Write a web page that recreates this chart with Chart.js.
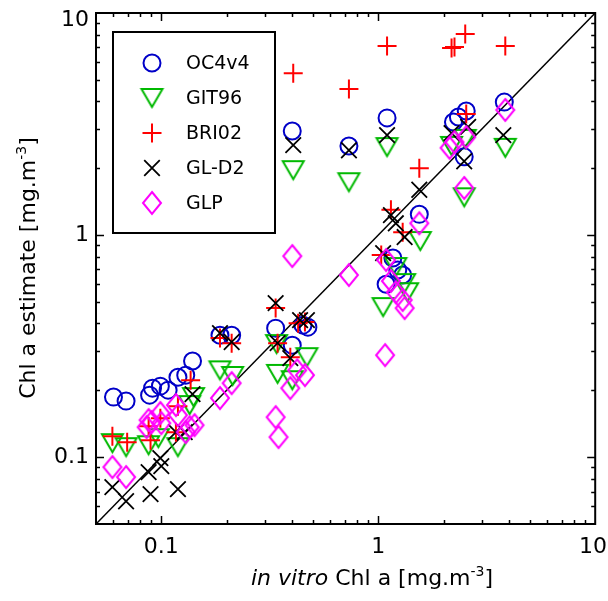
<!DOCTYPE html>
<html><head><meta charset="utf-8">
<script src="https://cdn.jsdelivr.net/npm/chart.js@4/dist/chart.umd.min.js"></script>
<style>html,body{margin:0;padding:0;background:#fff}#wrap{width:608px;height:601px;position:relative}</style>
</head><body><div id="wrap"><canvas id="c" width="608" height="601"></canvas></div>
<script>
// ---------- data ----------
const seriesNames = ['OC4v4', 'GIT96', 'BRI02', 'GL-D2', 'GLP'];

const oc4X = [0.0602,0.0688,0.0883,0.0911,0.0990,0.1075,0.1193,0.1296,0.1393,0.1864,0.2110,0.3365,0.4014,0.4014,0.4498,0.4739,0.7325,1.098,1.087,1.168,1.230,1.296,1.546,2.222,2.341,2.544,2.490,3.811];
const oc4Y = [0.1864,0.1788,0.1902,0.2045,0.2088,0.2003,0.229,0.234,0.271,0.354,0.354,0.381,2.94,0.319,0.393,0.385,2.52,3.37,0.601,0.788,0.696,0.661,1.24,3.23,3.40,3.62,2.25,3.97];

const git96X = [0.0595,0.0688,0.0874,0.0969,0.1193,0.1408,0.1351,0.1864,0.2132,0.340,0.3436,0.4014,0.4690,0.4056,0.7325,1.098,1.053,1.205,1.323,1.365,1.562,2.177,2.517,2.490,3.851];
const git96Y = [0.1156,0.1109,0.1132,0.1218,0.1109,0.1864,0.1715,0.246,0.232,0.323,0.237,0.222,0.282,1.96,1.73,2.49,0.474,0.718,0.608,0.553,0.940,2.52,2.71,1.48,2.47];

const bri02X = [0.0595,0.0696,0.0874,0.0892,0.0990,0.1168,0.1193,0.1365,0.1864,0.2110,0.3365,0.3436,0.3932,0.4272,0.4593,0.4056,0.7325,1.098,1.032,1.144,1.296,1.546,2.177,2.246,2.517,2.544,3.851];
const bri02Y = [0.1243,0.1168,0.1379,0.1193,0.1498,0.1296,0.1697,0.222,0.344,0.326,0.469,0.326,0.282,0.401,0.406,5.36,4.55,7.10,0.813,1.30,1.03,2.00,6.96,7.03,8.04,3.51,7.10];

const gld2X = [0.0595,0.0688,0.0874,0.0892,0.0990,0.100,0.1193,0.1168,0.1282,0.1393,0.1864,0.2110,0.3365,0.3436,0.3932,0.4362,0.4690,0.4056,0.7325,1.098,1.053,1.144,1.205,1.323,1.546,2.177,2.597,2.490,3.772];
const gld2Y = [0.0733,0.0633,0.0856,0.0681,0.0990,0.0911,0.0718,0.1296,0.1296,0.1922,0.362,0.330,0.494,0.326,0.279,0.414,0.414,2.54,2.41,2.82,0.830,1.23,1.13,0.980,1.60,2.88,3.07,2.15,2.82];

const glpX = [0.0595,0.0688,0.0856,0.0874,0.0902,0.0990,0.100,0.1168,0.1193,0.1296,0.1351,0.1423,0.1864,0.2110,0.4014,0.3365,0.347,0.3932,0.4228,0.4593,0.7325,1.087,1.144,1.205,1.296,1.323,1.075,1.546,2.132,2.246,2.544,2.490,3.851];
const glpY = [0.0902,0.0813,0.1365,0.1468,0.1438,0.158,0.1423,0.1715,0.1546,0.1296,0.1365,0.1393,0.1845,0.2154,0.804,0.1514,0.1231,0.2045,0.246,0.234,0.661,0.772,0.621,0.553,0.510,0.469,0.288,1.13,2.47,2.62,2.76,1.63,3.66];

const oneToOneX = [0.05, 10];
const oneToOneY = [0.05, 10];

const axisMin = 0.05, axisMax = 10;
const majorTickValues = [0.1, 1, 10];
const majorTickLabels = ['0.1', '1', '10'];
const minorTickValues = [0.05,0.06,0.07,0.08,0.09,0.2,0.3,0.4,0.5,0.6,0.7,0.8,0.9,2,3,4,5,6,7,8,9];

// ---------- marker images ----------
function makeTriangleDown(color, w, h, lw) {
  const pad = Math.ceil(lw) + 1;
  const c = document.createElement('canvas');
  c.width = w + 2 * pad; c.height = h + 2 * pad;
  const g = c.getContext('2d');
  g.strokeStyle = color; g.lineWidth = lw; g.lineJoin = 'miter';
  g.beginPath();
  g.moveTo(pad, pad); g.lineTo(pad + w, pad); g.lineTo(pad + w / 2, pad + h); g.closePath();
  g.stroke();
  return c;
}
function makeDiamond(color, w, h, lw) {
  const pad = Math.ceil(lw) + 1;
  const c = document.createElement('canvas');
  c.width = w + 2 * pad; c.height = h + 2 * pad;
  const g = c.getContext('2d');
  g.strokeStyle = color; g.lineWidth = lw;
  g.beginPath();
  g.moveTo(pad + w / 2, pad); g.lineTo(pad + w, pad + h / 2); g.lineTo(pad + w / 2, pad + h); g.lineTo(pad, pad + h / 2); g.closePath();
  g.stroke();
  return c;
}

const colBlue = 'rgb(0,0,200)', colGreen = 'rgb(0,185,0)', colRed = 'rgb(255,0,0)', colBlack = '#000', colMag = 'rgb(255,0,255)';
const triImg = makeTriangleDown(colGreen, 21, 18, 2);
const diaImg = makeDiamond(colMag, 18, 22, 2);

const styles = [
  { color: colBlue,  pointStyle: 'circle',   radius: 8.5, borderWidth: 2,   rotation: 0 },
  { color: colGreen, pointStyle: triImg,     radius: 10,  borderWidth: 2,   rotation: 0 },
  { color: colRed,   pointStyle: 'cross',    radius: 9.5, borderWidth: 2,   rotation: 0 },
  { color: colBlack, pointStyle: 'crossRot', radius: 11,  borderWidth: 1.8, rotation: 0 },
  { color: colMag,   pointStyle: diaImg,     radius: 10,  borderWidth: 2,   rotation: 0 }
];
const xsAll = [oc4X, git96X, bri02X, gld2X, glpX];
const ysAll = [oc4Y, git96Y, bri02Y, gld2Y, glpY];

const datasets = seriesNames.map((name, i) => ({
  label: name,
  data: xsAll[i].map((x, j) => ({ x: x, y: ysAll[i][j] })),
  pointStyle: styles[i].pointStyle,
  pointRadius: styles[i].radius,
  pointBorderWidth: styles[i].borderWidth,
  pointBorderColor: styles[i].color,
  pointBackgroundColor: 'rgba(0,0,0,0)',
  pointRotation: styles[i].rotation,
  showLine: false,
  order: 5 - i
}));
datasets.push({
  label: '1:1',
  data: oneToOneX.map((x, j) => ({ x: x, y: oneToOneY[j] })),
  showLine: true,
  borderColor: '#000',
  borderWidth: 1.5,
  pointRadius: 0,
  order: 10
});

// ---------- frame / ticks / labels / legend ----------
const FONT = '"DejaVu Sans", Verdana, sans-serif';
const framePlugin = {
  id: 'frame',
  afterDraw(chart) {
    const { ctx, chartArea: a } = chart;
    const sx = chart.scales.x, sy = chart.scales.y;
    ctx.save();
    ctx.strokeStyle = '#000';
    ctx.lineWidth = 1.5;
    const drawTicks = (vals, len) => {
      vals.forEach(v => {
        const px = Math.round(sx.getPixelForValue(v)) + 0.5;
        const py = Math.round(sy.getPixelForValue(v)) + 0.5;
        ctx.beginPath();
        if (v > axisMin && v < axisMax) {
          ctx.moveTo(px, a.bottom); ctx.lineTo(px, a.bottom - len);
          ctx.moveTo(px, a.top); ctx.lineTo(px, a.top + len);
          ctx.moveTo(a.left, py); ctx.lineTo(a.left + len, py);
          ctx.moveTo(a.right, py); ctx.lineTo(a.right - len, py);
        }
        ctx.stroke();
      });
    };
    drawTicks(minorTickValues, 4);
    drawTicks(majorTickValues, 8);

    ctx.lineWidth = 2;
    ctx.strokeRect(a.left, a.top, a.right - a.left, a.bottom - a.top);

    // tick labels
    ctx.fillStyle = '#000';
    ctx.font = '22px ' + FONT;
    ctx.textBaseline = 'alphabetic';
    ctx.textAlign = 'center';
    majorTickValues.forEach((v, i) => {
      const w = ctx.measureText(majorTickLabels[i]).width;
      let px = sx.getPixelForValue(v);
      px = Math.min(px, chart.width - w / 2 - 1);
      ctx.fillText(majorTickLabels[i], px, 553);
    });
    ctx.textAlign = 'right';
    ctx.textBaseline = 'middle';
    majorTickValues.forEach((v, i) => {
      let py = sy.getPixelForValue(v);
      py = Math.max(py, 20);
      ctx.fillText(majorTickLabels[i], 89, py);
    });

    // x title
    const big = '22px ' + FONT, bigIt = 'italic 22px ' + FONT, sup = '14px ' + FONT;
    ctx.textBaseline = 'alphabetic';
    ctx.textAlign = 'left';
    const xParts = [['in vitro', bigIt, 0], [' Chl a [mg.m', big, 0], ['-3', sup, -9], [']', big, 0]];
    const drawParts = (parts, cx, baseY) => {
      let total = 0;
      parts.forEach(p => { ctx.font = p[1]; total += ctx.measureText(p[0]).width; });
      let x0 = cx - total / 2;
      parts.forEach(p => { ctx.font = p[1]; ctx.fillText(p[0], x0, baseY + p[2]); x0 += ctx.measureText(p[0]).width; });
    };
    drawParts(xParts, 372, 585);

    // y title
    ctx.save();
    ctx.translate(35, 268);
    ctx.rotate(-Math.PI / 2);
    const yParts = [['Chl a estimate [mg.m', big, 0], ['-3', sup, -9], [']', big, 0]];
    drawParts(yParts, 0, 0);
    ctx.restore();

    // legend
    const lx = 113, ly = 32, lw = 162, lh = 201;
    ctx.fillStyle = '#fff';
    ctx.fillRect(lx, ly, lw, lh);
    ctx.strokeStyle = '#000';
    ctx.lineWidth = 2;
    ctx.strokeRect(lx, ly, lw, lh);
    const rowsY = [63, 98, 133, 168, 203];
    ctx.font = '19px ' + FONT;
    ctx.textAlign = 'left';
    ctx.textBaseline = 'middle';
    seriesNames.forEach((name, i) => {
      const st = styles[i];
      ctx.save();
      ctx.strokeStyle = st.color;
      ctx.fillStyle = 'rgba(0,0,0,0)';
      ctx.lineWidth = st.borderWidth;
      Chart.helpers.drawPoint(ctx, { pointStyle: st.pointStyle, rotation: st.rotation, radius: st.radius, borderWidth: st.borderWidth }, 152, rowsY[i]);
      ctx.restore();
      ctx.fillStyle = '#000';
      ctx.fillText(name, 186, rowsY[i] + 1);
    });
    ctx.restore();
  }
};

new Chart(document.getElementById('c'), {
  type: 'scatter',
  data: { datasets: datasets },
  options: {
    responsive: false,
    animation: false,
    devicePixelRatio: 1,
    layout: { padding: { left: 96, right: 3, top: 13, bottom: 77 } },
    scales: {
      x: { type: 'logarithmic', min: axisMin, max: axisMax, display: false },
      y: { type: 'logarithmic', min: axisMin, max: axisMax, display: false }
    },
    plugins: { legend: { display: false }, tooltip: { enabled: false } }
  },
  plugins: [framePlugin]
});
</script>
</body></html>
